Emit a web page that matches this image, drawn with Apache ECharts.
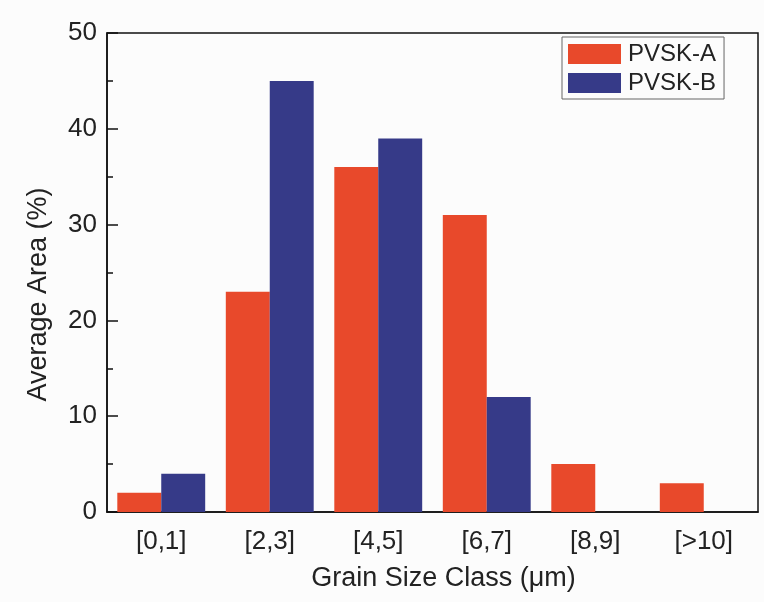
<!DOCTYPE html>
<html>
<head>
<meta charset="utf-8">
<script src="https://cdn.jsdelivr.net/npm/echarts@6/dist/echarts.min.js"></script>
<style>
html,body{margin:0;padding:0;background:#fcfcfc;}
#chart{width:764px;height:602px;}
</style>
</head>
<body>
<div id="chart"></div>
<script>
const categories = ['[0,1]', '[2,3]', '[4,5]', '[6,7]', '[8,9]', '[>10]'];
const pvskA = [2, 23, 36, 31, 5, 3];
const pvskB = [4, 45, 39, 12, 0, 0];
const seriesNames = ['PVSK-A', 'PVSK-B'];

const FONT = '"Liberation Sans", Arial, sans-serif';
const chart = echarts.init(document.getElementById('chart'), null, {renderer: 'canvas'});
chart.setOption({
  backgroundColor: '#fcfcfc',
  animation: false,
  textStyle: {fontFamily: FONT},
  grid: {left: 107, right: 6, top: 33, bottom: 90, show: true, borderColor: '#111', borderWidth: 1.5, backgroundColor: 'transparent'},
  legend: {
    orient: 'vertical', left: 562, top: 37,
    itemWidth: 53, itemHeight: 20, itemGap: 5,
    padding: [5, 8, 4, 6],
    borderColor: '#666', borderWidth: 1,
    icon: 'rect',
    textStyle: {fontSize: 24, color: '#222', fontFamily: FONT, padding: [0, 0, 0, 2]},
    data: seriesNames
  },
  xAxis: [{
    type: 'category', data: categories,
    name: 'Grain Size Class (\u03bcm)', nameLocation: 'middle', nameGap: 53,
    nameTextStyle: {fontSize: 27, color: '#222', fontFamily: FONT, padding: [0, 0, 0, 22]},
    axisLine: {lineStyle: {color: '#111', width: 1.5}},
    axisTick: {alignWithLabel: true, length: 8, lineStyle: {color: '#111', width: 1.5}},
    axisLabel: {fontSize: 26, color: '#222', margin: 17, fontFamily: FONT},
    splitLine: {show: false}
  }, {
    type: 'category', data: categories, position: 'bottom',
    axisLine: {show: false},
    axisTick: {alignWithLabel: false, length: 5, lineStyle: {color: '#111', width: 1.5}},
    axisLabel: {show: false},
    splitLine: {show: false}
  }],
  yAxis: {
    type: 'value', min: 0, max: 50, interval: 10,
    name: 'Average Area (%)', nameLocation: 'middle', nameGap: 55,
    nameTextStyle: {fontSize: 27, color: '#222', fontFamily: FONT, padding: [0, 44, 0, 0]},
    axisLine: {show: true, lineStyle: {color: '#111', width: 1.5}},
    axisTick: {show: true, inside: true, length: 11, lineStyle: {color: '#111', width: 1.5}},
    minorTick: {show: true, splitNumber: 2, length: 6, lineStyle: {color: '#111', width: 1.5}},
    axisLabel: {fontSize: 26, color: '#222', margin: 10, fontFamily: FONT},
    splitLine: {show: false}
  },
  series: [
    {name: seriesNames[0], type: 'bar', data: pvskA, xAxisIndex: 0, barGap: '0%', barCategoryGap: '19%', itemStyle: {color: '#e8492b'}},
    {name: seriesNames[1], type: 'bar', data: pvskB, xAxisIndex: 0, barGap: '0%', barCategoryGap: '19%', itemStyle: {color: '#363a88'}}
  ]
});
</script>
</body>
</html>
